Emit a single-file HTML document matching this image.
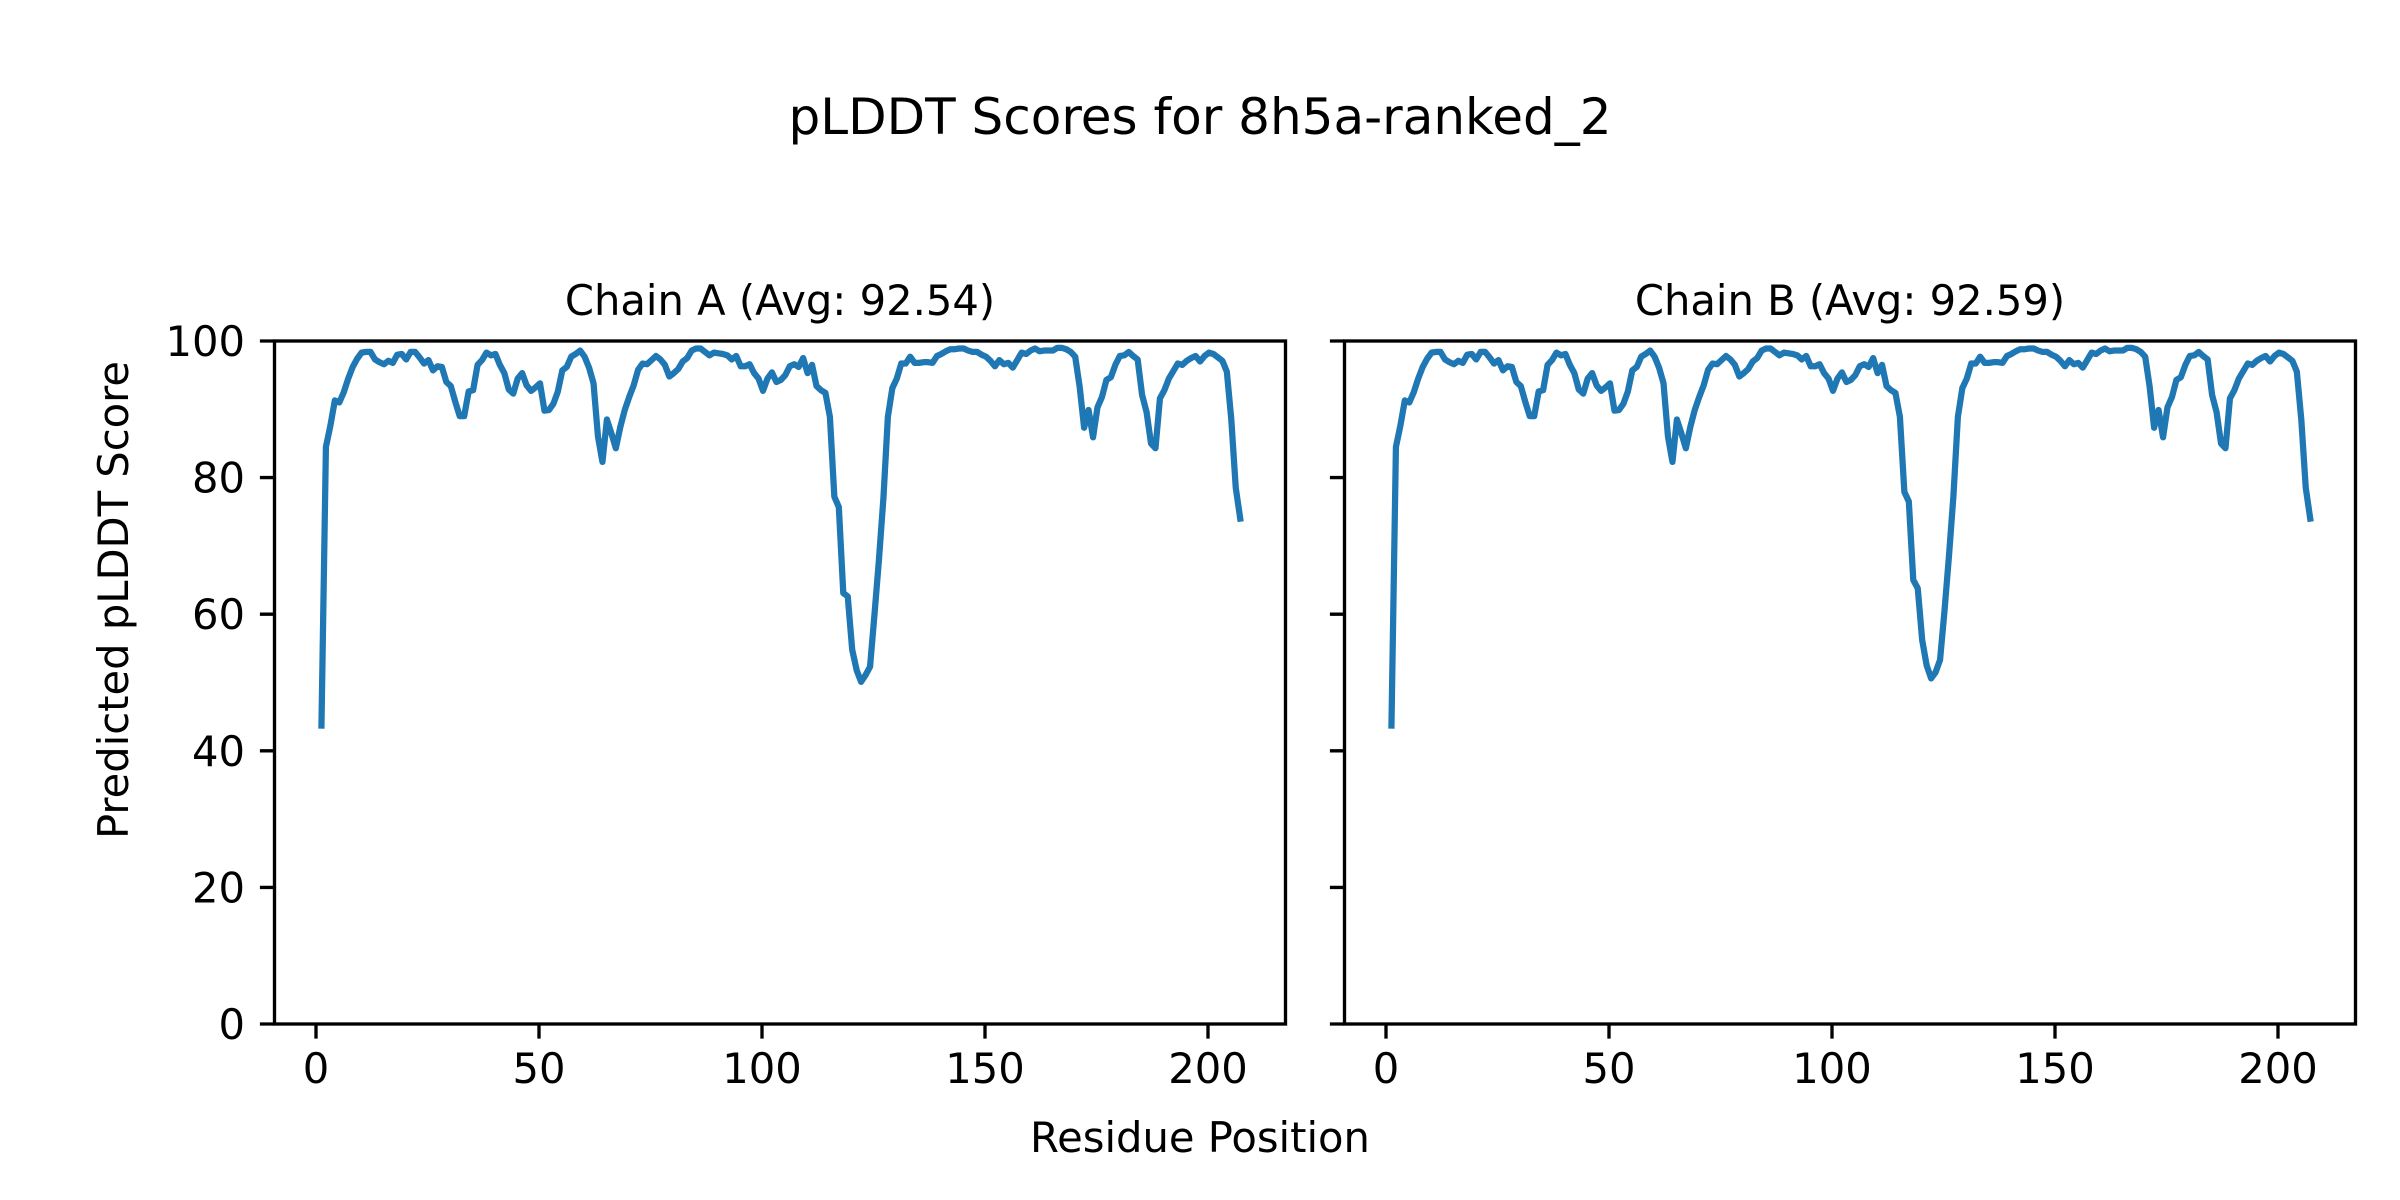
<!DOCTYPE html>
<html><head><meta charset="utf-8"><style>
html,body{margin:0;padding:0;background:#fff}
svg{display:block}
text{font-family:"DejaVu Sans","Liberation Sans",sans-serif;fill:#000}
</style></head><body>
<svg width="2400" height="1200" viewBox="0 0 2400 1200" xmlns="http://www.w3.org/2000/svg">
<rect width="2400" height="1200" fill="#fff"/>
<text x="1200" y="134" font-size="50" text-anchor="middle">pLDDT Scores for 8h5a-ranked_2</text>
<text x="780" y="315" font-size="41.67" text-anchor="middle">Chain A (Avg: 92.54)</text>
<text x="1850" y="315" font-size="41.67" text-anchor="middle">Chain B (Avg: 92.59)</text>
<text x="1200" y="1152" font-size="41.67" text-anchor="middle">Residue Position</text>
<text transform="translate(128,600) rotate(-90)" font-size="41.67" text-anchor="middle">Predicted pLDDT Score</text>

<g fill="none" stroke="#1f77b4" stroke-width="6.25" stroke-linejoin="round" stroke-linecap="square">
<polyline vector-effect="non-scaling-stroke" transform="matrix(4.46 0 0 -6.83 317 1024)" points="1,43.7 2,84.5 3,87.6 4,91.3 5,91.0 6,92.5 7,94.5 8,96.2 9,97.4 10,98.3 11,98.4 12,98.4 13,97.3 14,96.9 15,96.6 16,97.1 17,96.8 18,98.0 19,98.1 20,97.3 21,98.4 22,98.4 23,97.6 24,96.7 25,97.2 26,95.7 27,96.3 28,96.2 29,94.0 30,93.4 31,91.1 32,89.0 33,89.0 34,92.6 35,92.8 36,96.5 37,97.2 38,98.3 39,97.9 40,98.1 41,96.5 42,95.3 43,92.9 44,92.3 45,94.5 46,95.3 47,93.5 48,92.7 49,93.2 50,93.8 51,89.8 52,89.9 53,90.8 54,92.6 55,95.7 56,96.2 57,97.7 58,98.1 59,98.6 60,97.7 61,96.1 62,93.8 63,86.0 64,82.3 65,88.5 66,86.5 67,84.3 68,87.4 69,89.9 70,91.8 71,93.5 72,95.8 73,96.7 74,96.6 75,97.2 76,97.8 77,97.3 78,96.5 79,94.8 80,95.3 81,95.9 82,97.0 83,97.5 84,98.6 85,98.9 86,98.9 87,98.4 88,97.9 89,98.3 90,98.2 91,98.1 92,97.9 93,97.3 94,97.8 95,96.3 96,96.3 97,96.6 98,95.3 99,94.5 100,92.7 101,94.5 102,95.4 103,94.0 104,94.3 105,95.0 106,96.3 107,96.6 108,96.2 109,97.5 110,95.3 111,96.5 112,93.4 113,92.8 114,92.4 115,88.9 116,77.2 117,75.7 118,63.1 119,62.6 120,54.8 121,51.8 122,50.1 123,51.1 124,52.3 125,60.0 126,68.0 127,77.0 128,88.9 129,93.1 130,94.5 131,96.7 132,96.7 133,97.7 134,96.8 135,96.8 136,96.9 137,96.9 138,96.8 139,97.8 140,98.1 141,98.5 142,98.8 143,98.8 144,98.9 145,98.9 146,98.6 147,98.4 148,98.4 149,98.0 150,97.7 151,97.1 152,96.3 153,97.2 154,96.6 155,96.8 156,96.1 157,97.2 158,98.3 159,98.1 160,98.6 161,98.9 162,98.5 163,98.6 164,98.6 165,98.6 166,99.0 167,99.0 168,98.8 169,98.4 170,97.7 171,93.3 172,87.3 173,89.9 174,85.9 175,90.3 176,91.8 177,94.3 178,94.7 179,96.5 180,97.8 181,97.9 182,98.4 183,97.8 184,97.3 185,92.1 186,89.6 187,85.0 188,84.3 189,91.6 190,92.8 191,94.5 192,95.6 193,96.7 194,96.5 195,97.1 196,97.5 197,97.8 198,97.0 199,97.8 200,98.3 201,98.1 202,97.6 203,97.1 204,95.5 205,88.5 206,78.5 207,74.0"/>
<polyline vector-effect="non-scaling-stroke" transform="matrix(4.46 0 0 -6.83 1387 1024)" points="1,43.7 2,84.5 3,87.6 4,91.3 5,91.0 6,92.5 7,94.5 8,96.2 9,97.4 10,98.3 11,98.4 12,98.4 13,97.3 14,96.9 15,96.6 16,97.1 17,96.8 18,98.0 19,98.1 20,97.3 21,98.4 22,98.4 23,97.6 24,96.7 25,97.2 26,95.7 27,96.3 28,96.2 29,94.0 30,93.4 31,91.1 32,89.0 33,89.0 34,92.6 35,92.8 36,96.5 37,97.2 38,98.3 39,97.9 40,98.1 41,96.5 42,95.3 43,92.9 44,92.3 45,94.5 46,95.3 47,93.5 48,92.7 49,93.2 50,93.8 51,89.8 52,89.9 53,90.8 54,92.6 55,95.7 56,96.2 57,97.7 58,98.1 59,98.6 60,97.7 61,96.1 62,93.8 63,86.0 64,82.3 65,88.5 66,86.5 67,84.3 68,87.4 69,89.9 70,91.8 71,93.5 72,95.8 73,96.7 74,96.6 75,97.2 76,97.8 77,97.3 78,96.5 79,94.8 80,95.3 81,95.9 82,97.0 83,97.5 84,98.6 85,98.9 86,98.9 87,98.4 88,97.9 89,98.3 90,98.2 91,98.1 92,97.9 93,97.3 94,97.8 95,96.3 96,96.3 97,96.6 98,95.3 99,94.5 100,92.7 101,94.5 102,95.4 103,94.0 104,94.3 105,95.0 106,96.3 107,96.6 108,96.2 109,97.5 110,95.3 111,96.5 112,93.4 113,92.8 114,92.4 115,88.9 116,77.9 117,76.5 118,65.0 119,63.8 120,56.2 121,52.5 122,50.6 123,51.5 124,53.3 125,60.5 126,68.5 127,77.3 128,88.9 129,93.1 130,94.5 131,96.7 132,96.7 133,97.7 134,96.8 135,96.8 136,96.9 137,96.9 138,96.8 139,97.8 140,98.1 141,98.5 142,98.8 143,98.8 144,98.9 145,98.9 146,98.6 147,98.4 148,98.4 149,98.0 150,97.7 151,97.1 152,96.3 153,97.2 154,96.6 155,96.8 156,96.1 157,97.2 158,98.3 159,98.1 160,98.6 161,98.9 162,98.5 163,98.6 164,98.6 165,98.6 166,99.0 167,99.0 168,98.8 169,98.4 170,97.7 171,93.3 172,87.3 173,89.9 174,85.9 175,90.3 176,91.8 177,94.3 178,94.7 179,96.5 180,97.8 181,97.9 182,98.4 183,97.8 184,97.3 185,92.1 186,89.6 187,85.0 188,84.3 189,91.6 190,92.8 191,94.5 192,95.6 193,96.7 194,96.5 195,97.1 196,97.5 197,97.8 198,97.0 199,97.8 200,98.3 201,98.1 202,97.6 203,97.1 204,95.5 205,88.5 206,78.5 207,74.0"/>
</g>

<g fill="none" stroke="#000" stroke-width="3.33" stroke-linecap="butt">
<rect x="274.5" y="341" width="1011" height="683"/>
<rect x="1344.5" y="341" width="1011" height="683"/>
<path d="M259.9 341H274.5M259.9 477.6H274.5M259.9 614.2H274.5M259.9 750.8H274.5M259.9 887.4H274.5M259.9 1024H274.5"/>
<path d="M1329.9 341H1344.5M1329.9 477.6H1344.5M1329.9 614.2H1344.5M1329.9 750.8H1344.5M1329.9 887.4H1344.5M1329.9 1024H1344.5"/>
<path d="M316 1024V1038.6M539 1024V1038.6M762 1024V1038.6M985 1024V1038.6M1208 1024V1038.6"/>
<path d="M1386 1024V1038.6M1609 1024V1038.6M1832 1024V1038.6M2055 1024V1038.6M2278 1024V1038.6"/>
</g>

<g font-size="41.67" text-anchor="end">
<text x="245" y="356">100</text>
<text x="245" y="492.6">80</text>
<text x="245" y="629.2">60</text>
<text x="245" y="765.8">40</text>
<text x="245" y="902.4">20</text>
<text x="245" y="1039">0</text>
</g>
<g font-size="41.67" text-anchor="middle">
<text x="316" y="1083">0</text>
<text x="539" y="1083">50</text>
<text x="762" y="1083">100</text>
<text x="985" y="1083">150</text>
<text x="1208" y="1083">200</text>
<text x="1386" y="1083">0</text>
<text x="1609" y="1083">50</text>
<text x="1832" y="1083">100</text>
<text x="2055" y="1083">150</text>
<text x="2278" y="1083">200</text>
</g>
</svg>
</body></html>
